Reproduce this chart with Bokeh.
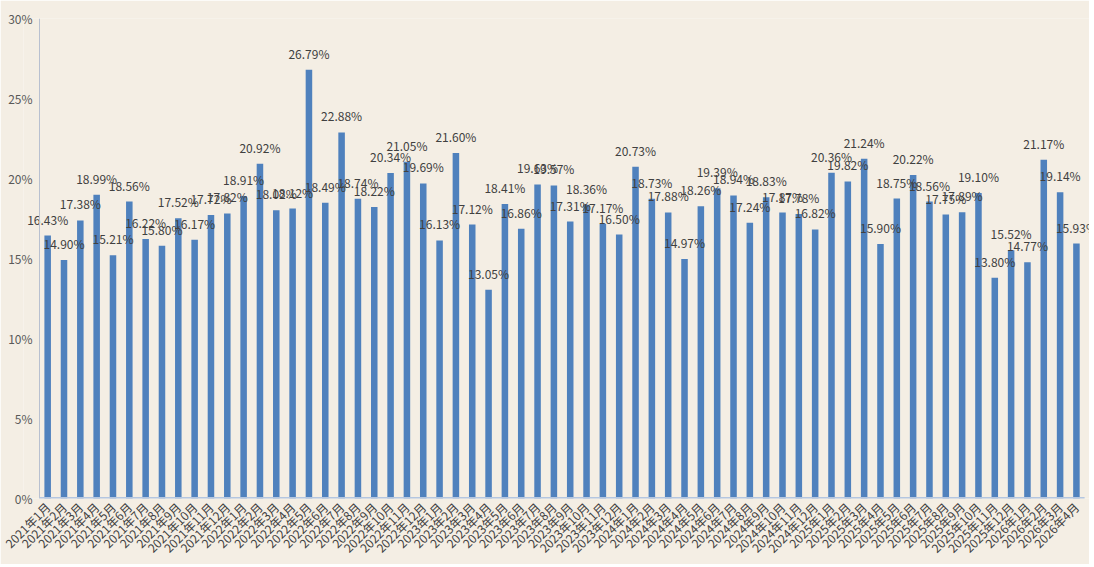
from bokeh.plotting import figure
from bokeh.models import ColumnDataSource, Range1d, PrintfTickFormatter, FixedTicker
from bokeh.core.properties import value
from bokeh.embed import file_html
from bokeh.resources import INLINE
import math

months = []
for y in range(2021, 2027):
    for m in range(1, 13):
        if y == 2026 and m > 4:
            break
        months.append(f"{y}年{m}月")

values = [16.43, 14.90, 17.38, 18.99, 15.21, 18.56, 16.22, 15.80, 17.52, 16.17, 17.72, 17.82,
          18.91, 20.92, 18.02, 18.12, 26.79, 18.49, 22.88, 18.74, 18.22, 20.34, 21.05, 19.69,
          16.13, 21.60, 17.12, 13.05, 18.41, 16.86, 19.63, 19.57, 17.31, 18.36, 17.17, 16.50,
          20.73, 18.73, 17.88, 14.97, 18.26, 19.39, 18.94, 17.24, 18.83, 17.87, 17.78, 16.82,
          20.36, 19.82, 21.24, 15.90, 18.75, 20.22, 18.56, 17.75, 17.89, 19.10, 13.80, 15.52,
          14.77, 21.17, 19.14, 15.93]

y_ticks = [0, 5, 10, 15, 20, 25, 30]

n = len(months)
idx = list(range(n))
labels = [f"{v:.2f}%" for v in values]
src = ColumnDataSource(dict(x=idx, y=values, t=labels))

BG = "#f4eee4"
FONT = "'Noto Sans CJK SC', 'Noto Sans', sans-serif"

p = figure(frame_width=1066, frame_height=480,
           x_range=Range1d(-1.48, n - 0.2), y_range=Range1d(0, 30),
           output_backend="svg", toolbar_location=None,
           min_border_left=23, min_border_top=18, min_border_right=0, min_border_bottom=40,
           background_fill_color=BG, border_fill_color=BG, outline_line_color=None)

p.vbar(x="x", top="y", width=0.4, source=src, fill_color="#4f81bd", line_color=None)

p.text(x="x", y="y", text="t", source=src, text_align="center", text_baseline="bottom",
       y_offset=-8, text_font=value("Noto Sans CJK SC"), text_font_size="12px", text_color="#404040")

# axis lines at the category edges
p.segment(x0=[-0.5], y0=[y_ticks[0]], x1=[-0.5], y1=[y_ticks[-1]], line_color="#b8c0d0", line_width=1)
p.segment(x0=[-0.5], y0=[0], x1=[n - 0.5], y1=[0], line_color="#b4c6e0", line_width=3)

p.xgrid.visible = False
p.ygrid.visible = False

p.yaxis.ticker = FixedTicker(ticks=y_ticks)
p.yaxis.formatter = PrintfTickFormatter(format="%d%%")
p.yaxis.major_tick_out = 0
p.yaxis.major_tick_in = 0
p.yaxis.minor_tick_out = 0
p.yaxis.minor_tick_in = 0
p.yaxis.major_label_standoff = -9
p.yaxis.axis_line_color = None
p.yaxis.major_label_text_font = FONT
p.yaxis.major_label_text_font_size = "12px"
p.yaxis.major_label_text_color = "#595959"

p.xaxis.ticker = FixedTicker(ticks=idx)
p.xaxis.major_label_overrides = {i: m for i, m in enumerate(months)}
p.xaxis.major_tick_out = 0
p.xaxis.major_tick_in = 0
p.xaxis.minor_tick_out = 0
p.xaxis.minor_tick_in = 0
p.xaxis.major_label_orientation = math.pi / 4
p.xaxis.major_label_standoff = 6
p.xaxis.axis_line_color = None
p.xaxis.major_label_text_font = FONT
p.xaxis.major_label_text_font_size = "12px"
p.xaxis.major_label_text_color = "#404040"

open("out.html", "w").write(file_html(p, INLINE))
